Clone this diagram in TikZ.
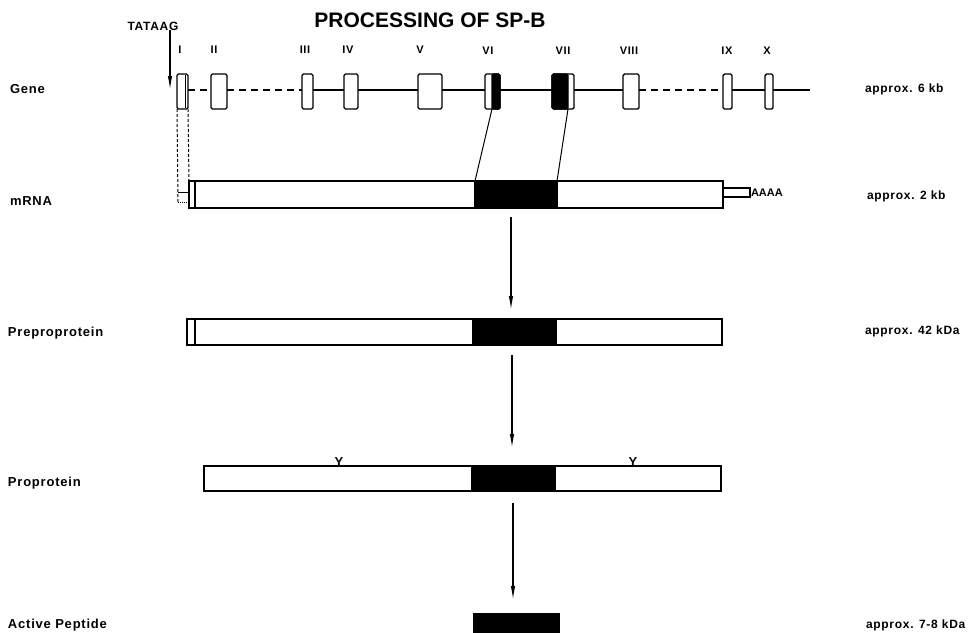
\documentclass[tikz,border=0pt]{standalone}
\usepackage{fontspec}
\setmainfont{Liberation Sans}
\newfontfamily\labfont[LetterSpace=6]{Liberation Sans}
\usetikzlibrary{arrows.meta}
\begin{document}
\begin{tikzpicture}[x=1pt,y=-1pt,
  every node/.style={inner sep=0pt,outer sep=0pt},
  outline/.style={draw=black,line width=1.4pt},
  exon/.style={outline,fill=white,rounded corners=1.5pt,minimum height=35pt,anchor=west},
  exonblack/.style={exon,fill=black},
  seg/.style={outline,fill=white,anchor=west},
  blackseg/.style={outline,fill=black,anchor=west},
  numeral/.style={font=\labfont\bfseries\fontsize{11}{11}\selectfont},
  rowlabel/.style={anchor=west,font=\labfont\bfseries\fontsize{13}{13}\selectfont},
  sizelabel/.style={anchor=west,font=\labfont\bfseries\fontsize{12}{12}\selectfont},
  glyco/.style={anchor=south,font=\bfseries\fontsize{13}{13}\selectfont},
  intron/.style={line width=1.2pt},
  broken/.style={dash pattern=on 7pt off 5pt},
  arr/.style={line width=1.3pt,-{Latex[length=14pt,width=4.5pt]}},
  link/.style={line width=1pt}
]
\useasboundingbox (0,0) rectangle (979,632);

% title
\node[font=\bfseries\fontsize{21}{21}\selectfont] (title) at (430,20) {PROCESSING OF SP-B};

% ---------------- gene ----------------
\node[font=\labfont\bfseries\fontsize{12}{12}\selectfont] (tataag) at (153,26) {TATAAG};
\coordinate (tss) at (170,90);

\node[exon,minimum width=11pt] (e1) at (177,91.5) {};
\node[exon,minimum width=16pt] (e2) at (211,91.5) {};
\node[exon,minimum width=11pt] (e3) at (302,91.5) {};
\node[exon,minimum width=14pt] (e4) at (344,91.5) {};
\node[exon,minimum width=24pt] (e5) at (418,91.5) {};
\node[exon,minimum width=15pt] (e6) at (485,91.5) {};
\node[exonblack,minimum width=8pt] (e6b) at (492,91.5) {};
\node[exon,minimum width=22pt] (e7) at (552,91.5) {};
\node[exonblack,minimum width=16pt] (e7b) at (552,91.5) {};
\node[exon,minimum width=16pt] (e8) at (623,91.5) {};
\node[exon,minimum width=9pt] (e9) at (723,91.5) {};
\node[exon,minimum width=8pt] (e10) at (765,91.5) {};
\coordinate (gend) at (810,90);

% introns
\begin{scope}[intron]
  \draw[broken] (e1.east |- tss) -- (e2.west |- tss);
  \draw[broken] (e2.east |- tss) -- (e3.west |- tss);
  \draw (e3.east |- tss) -- (e4.west |- tss);
  \draw (e4.east |- tss) -- (e5.west |- tss);
  \draw (e5.east |- tss) -- (e6.west |- tss);
  \draw (e6.east |- tss) -- (e7.west |- tss);
  \draw (e7.east |- tss) -- (e8.west |- tss);
  \draw[broken] (e8.east |- tss) -- (e9.west |- tss);
  \draw (e9.east |- tss) -- (e10.west |- tss);
  \draw (e10.east |- tss) -- (gend);
\end{scope}
% double right edge of exon I
\draw[line width=1pt] ([xshift=-3pt,yshift=-1pt]e1.north east) -- ([xshift=-3pt,yshift=1pt]e1.south east);

% transcription start
\draw[arr] (tataag.south -| tss) -- (tss);

% exon numbers
\node[numeral] (n1) at (180,50) {I};
\node[numeral] (n2) at (214,50) {II};
\node[numeral] (n3) at (305,50) {III};
\node[numeral] (n4) at (348,50) {IV};
\node[numeral] (n5) at (420,50) {V};
\node[numeral] (n6) at (488,51) {VI};
\node[numeral] (n7) at (563,51) {VII};
\node[numeral] (n8) at (629,51) {VIII};
\node[numeral] (n9) at (727,51) {IX};
\node[numeral] (n10) at (767,51) {X};

% ---------------- mRNA ----------------
\node[seg,minimum width=6pt,minimum height=27pt] (mI) at (189,194.5) {};
\node[seg,minimum width=280pt,minimum height=27pt] (m1) at (195,194.5) {};
\node[blackseg,minimum width=82pt,minimum height=27pt] (mb) at (475,194.5) {};
\node[seg,minimum width=166pt,minimum height=27pt] (m2) at (557,194.5) {};
\node[seg,line width=1.2pt,minimum width=27pt,minimum height=9pt] (tail) at (723,192.5) {};
\node[anchor=west,font=\bfseries\fontsize{11}{11}\selectfont] (polyA) at ([xshift=1pt]tail.east) {AAAA};

% exon I mapped onto the message
\coordinate (cap) at (178,202);
\coordinate (capr) at (189,202);
\coordinate (capt) at (178,192);
\draw[link,densely dashed] (e1.south west) -- (cap);
\draw[link,densely dashed] (e1.south east) -- (mI.north west);
\draw[link,densely dotted] (cap) -- (capr);
\draw[link] (capt) -- (mI.west |- capt);

% exons VI and VII form the mature peptide region
\draw[link] (e6b.south west) -- (mb.north west);
\draw[link] (e7b.south east) -- (mb.north east);

% ---------------- preproprotein ----------------
\node[seg,minimum width=8pt,minimum height=26pt] (pS) at (187,332) {};
\node[seg,minimum width=278pt,minimum height=26pt] (p1) at (195,332) {};
\node[blackseg,minimum width=83pt,minimum height=26pt] (pb) at (473,332) {};
\node[seg,minimum width=166pt,minimum height=26pt] (p2) at (556,332) {};

% ---------------- proprotein ----------------
\node[seg,minimum width=268pt,minimum height=25pt] (q1) at (204,478.5) {};
\node[blackseg,minimum width=83pt,minimum height=25pt] (qb) at (472,478.5) {};
\node[seg,minimum width=166pt,minimum height=25pt] (q2) at (555,478.5) {};
\node[glyco] (y1) at (339,466.5) {Y};
\node[glyco] (y2) at (633,466.5) {Y};

% ---------------- active peptide ----------------
\node[blackseg,minimum width=85pt,minimum height=18pt] (ab) at (474,623) {};

% processing steps
\draw[arr,shorten <=9pt,shorten >=9pt] ([xshift=-5pt]mb.south) -- ([xshift=-5pt]mb.south |- pb.north);
\draw[arr,shorten <=10pt,shorten >=18pt] ([xshift=-2.5pt]pb.south) -- ([xshift=-2.5pt]pb.south |- qb.north);
\draw[arr,shorten <=12pt,shorten >=14pt] ([xshift=-0.5pt]qb.south) -- ([xshift=-0.5pt]qb.south |- ab.north);

% row labels
\node[rowlabel] (lgene) at (10,89) {Gene};
\node[rowlabel] (lmrna) at (10,201) {mRNA};
\node[rowlabel] (lpre) at (8,333) {Preproprotein};
\node[rowlabel] (lpro) at (8,483) {Proprotein};
\node[rowlabel] (lact) at (8,625) {Active Peptide};

% sizes
\node[sizelabel] (s1) at (865,89) {approx. 6 kb};
\node[sizelabel] (s2) at (867,196) {approx. 2 kb};
\node[sizelabel] (s3) at (865,331) {approx. 42 kDa};
\node[sizelabel] (s4) at (866,625) {approx. 7-8 kDa};
\end{tikzpicture}
\end{document}
